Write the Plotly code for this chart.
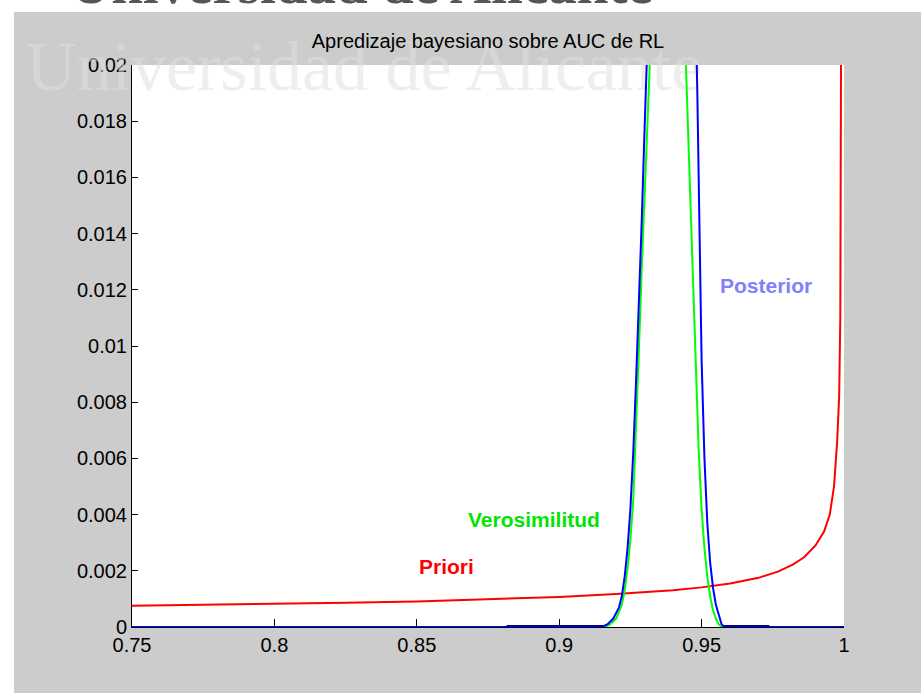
import plotly.graph_objects as go

# ---------------- data ----------------
prior_x = [0.75, 0.775, 0.8, 0.825, 0.85, 0.875, 0.9, 0.92, 0.94, 0.95, 0.96,
           0.97, 0.977, 0.982, 0.986, 0.99, 0.993, 0.995, 0.9965, 0.9976,
           0.9983, 0.9987, 0.9990, 0.9992, 0.9995]
prior_y = [0.00076, 0.00079, 0.00082, 0.00086, 0.00091, 0.00098, 0.00107,
           0.00117, 0.00131, 0.00141, 0.00155, 0.00175, 0.00198, 0.00222,
           0.00248, 0.0029, 0.0034, 0.0040, 0.0050, 0.0066, 0.0082, 0.0110,
           0.0150, 0.0250, 0.0400]

lik_x = [0.75, 0.916, 0.918, 0.920, 0.922, 0.923, 0.924, 0.925, 0.926, 0.927,
         0.928, 0.929, 0.930, 0.931, 0.932, 0.934, 0.936, 0.938, 0.940, 0.942,
         0.944, 0.945, 0.946, 0.947, 0.948, 0.949, 0.950, 0.951, 0.952, 0.953,
         0.954, 0.955, 0.956, 0.957, 1.0]
lik_y = [0.0, 0.0, 0.0001, 0.0003, 0.0008, 0.0013, 0.0021, 0.0031, 0.0045,
         0.0070, 0.0099, 0.0128, 0.0157, 0.0188, 0.0225, 0.0290, 0.0340,
         0.0360, 0.0350, 0.0300, 0.0215, 0.0185, 0.0150, 0.0118, 0.0088,
         0.0062, 0.0042, 0.0028, 0.0018, 0.0011, 0.0006, 0.0003, 0.0001,
         0.0, 0.0]

post_x = [0.75, 0.915, 0.917, 0.919, 0.921, 0.922, 0.923, 0.924, 0.925, 0.926,
          0.927, 0.928, 0.929, 0.930, 0.931, 0.933, 0.936, 0.939, 0.942,
          0.945, 0.947, 0.948, 0.9485, 0.949, 0.9495, 0.950, 0.951, 0.952,
          0.953, 0.954, 0.955, 0.956, 0.957, 0.958, 1.0]
post_y = [0.0, 0.0, 0.0001, 0.0003, 0.0007, 0.0011, 0.0018, 0.0028, 0.0042,
          0.0062, 0.0088, 0.0115, 0.0145, 0.0178, 0.0215, 0.0290, 0.0360,
          0.0400, 0.0400, 0.0350, 0.0270, 0.0215, 0.0190, 0.0155, 0.0122,
          0.0095, 0.0060, 0.0037, 0.0023, 0.0014, 0.0008, 0.0004, 0.0001,
          0.0, 0.0]

interval_x = [0.8815, 0.916, None, 0.9573, 0.9738]
interval_y = [0.0, 0.0, None, 0.0, 0.0]

x_ticks = [0.75, 0.8, 0.85, 0.9, 0.95, 1.0]
x_tick_labels = ["0.75", "0.8", "0.85", "0.9", "0.95", "1"]
y_ticks = [0, 0.002, 0.004, 0.006, 0.008, 0.01, 0.012, 0.014, 0.016, 0.018, 0.02]
y_tick_labels = ["0", "0.002", "0.004", "0.006", "0.008", "0.01", "0.012",
                 "0.014", "0.016", "0.018", "0.02"]

title_text = "Apredizaje bayesiano sobre AUC de RL"
watermark_text = "Universidad de Alicante"
watermark_pos = (0.8315, 0.01974)

labels = [
    ("Priori", 0.8603, 0.00217, "#ff0000"),
    ("Verosimilitud", 0.8912, 0.00384, "#00e600"),
    ("Posterior", 0.9726, 0.01217, "#8080ff"),
]

SANS = "Liberation Sans, Arial, sans-serif"
SERIF = "Liberation Serif, Times New Roman, serif"

fig = go.Figure()

# watermark drawn beneath the curves
fig.add_trace(go.Scatter(
    x=[watermark_pos[0]], y=[watermark_pos[1]], mode="text",
    text=[watermark_text], textposition="middle center",
    textfont=dict(family=SERIF, size=70, color="rgba(223,223,223,0.53)"),
    cliponaxis=False, hoverinfo="skip", showlegend=False))

fig.add_trace(go.Scatter(x=interval_x, y=interval_y, mode="lines",
                         line=dict(color="#000080", width=4),
                         hoverinfo="skip", showlegend=False))
fig.add_trace(go.Scatter(x=prior_x, y=prior_y, mode="lines", name="Priori",
                         line=dict(color="#ff0000", width=2)))
fig.add_trace(go.Scatter(x=lik_x, y=lik_y, mode="lines", name="Verosimilitud",
                         line=dict(color="#00ff00", width=2)))
fig.add_trace(go.Scatter(x=post_x, y=post_y, mode="lines", name="Posterior",
                         line=dict(color="#0000ff", width=2)))

for txt, lx, ly, col in labels:
    fig.add_annotation(x=lx, y=ly, xref="x", yref="y", text="<b>%s</b>" % txt,
                       showarrow=False,
                       font=dict(family=SANS, size=21, color=col))

# white page strips around the gray figure (top and left)
fig.add_shape(type="rect", xref="paper", yref="paper",
              x0=-0.2, x1=1.2, y0=1.0943, y1=1.2,
              fillcolor="white", line=dict(width=0), layer="above")
fig.add_shape(type="rect", xref="paper", yref="paper",
              x0=-0.2, x1=-0.1657, y0=-0.2, y1=1.2,
              fillcolor="white", line=dict(width=0), layer="above")

# cut-off header text at the very top of the page (only its bottom shows)
fig.add_annotation(x=0.323, y=1.0860, xref="paper", yref="paper",
                   xanchor="center", yanchor="bottom", showarrow=False,
                   text="<b>%s</b>" % watermark_text,
                   font=dict(family=SERIF, size=57, color="#555555"))

fig.update_layout(
    width=921, height=693,
    margin=dict(l=132, r=77, t=65, b=66),
    paper_bgcolor="#cccccc", plot_bgcolor="white",
    showlegend=False,
    title=dict(text=title_text, x=0.5, xref="paper", y=0.9408,
               yref="container", xanchor="center", yanchor="middle",
               font=dict(family=SANS, size=20, color="black")),
    xaxis=dict(range=[0.75, 1.0], tickvals=x_ticks, ticktext=x_tick_labels,
               ticks="inside", ticklen=8, tickcolor="black", tickwidth=1,
               showline=True, linecolor="black", linewidth=1,
               showgrid=False, zeroline=False, layer="below traces",
               tickfont=dict(family=SANS, size=20, color="black")),
    yaxis=dict(range=[0, 0.02], tickvals=y_ticks, ticktext=y_tick_labels,
               ticks="inside", ticklen=6, tickcolor="black", tickwidth=1,
               showline=True, linecolor="black", linewidth=1,
               showgrid=False, zeroline=False, layer="below traces",
               tickfont=dict(family=SANS, size=20, color="black")),
)

fig.write_html("out.html")
